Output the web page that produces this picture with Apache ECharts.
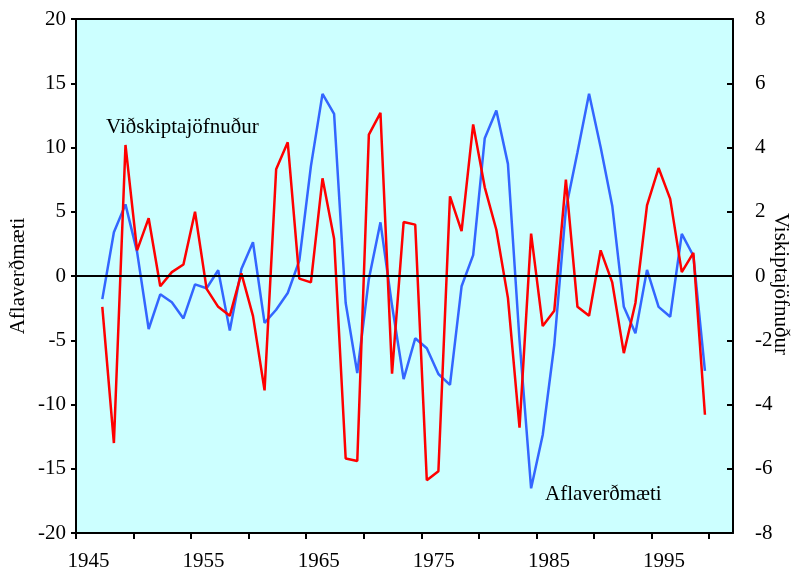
<!DOCTYPE html>
<html>
<head>
<meta charset="utf-8">
<script src="https://cdn.jsdelivr.net/npm/echarts@6/dist/echarts.min.js"></script>
<style>
html,body{margin:0;padding:0;background:#fff;}
#c{width:791px;height:574px;}
</style>
</head>
<body>
<div id="c"></div>
<script>
const years = [];
for (let y = 1947; y <= 1999; y++) years.push(y);

// Aflaverðmæti (left axis, red)
const aflaverdmaeti = [
  -2.4, -13.0, 10.2, 2.0, 4.5, -0.8, 0.3, 0.9, 5.0, -1.0,
  -2.4, -3.1, 0.2, -3.1, -8.9, 8.3, 10.4, -0.2, -0.5, 7.6,
  2.9, -14.2, -14.4, 11.0, 12.7, -7.6, 4.2, 4.0, -15.9, -15.2,
  6.2, 3.5, 11.8, 6.9, 3.6, -1.7, -11.8, 3.3, -3.9, -2.7,
  7.5, -2.4, -3.1, 2.0, -0.5, -6.0, -2.1, 5.5, 8.4, 6.0,
  0.3, 1.8, -10.8
];

// Viðskiptajöfnuður (right axis, blue)
const vidskiptajofnudur = [
  -0.72, 1.36, 2.23, 0.75, -1.65, -0.57, -0.82, -1.32, -0.26, -0.38,
  0.18, -1.70, 0.22, 1.05, -1.46, -1.05, -0.53, 0.48, 3.42, 5.67,
  5.05, -0.84, -3.02, -0.09, 1.67, -0.92, -3.21, -1.94, -2.25, -3.05,
  -3.39, -0.32, 0.65, 4.29, 5.15, 3.49, -2.0, -6.61, -4.95, -2.14,
  2.09, 3.85, 5.67, 4.01, 2.19, -0.96, -1.78, 0.19, -0.96, -1.27,
  1.31, 0.63, -2.95
];

const xLabelYears = [1945, 1955, 1965, 1975, 1985, 1995];
const leftTicks = [-20, -15, -10, -5, 0, 5, 10, 15, 20];
const rightTicks = [-8, -6, -4, -2, 0, 2, 4, 6, 8];

const FONT = 'Liberation Serif';
const chart = echarts.init(document.getElementById('c'), null, {renderer: 'canvas'});

const redData = years.map((y, i) => [y, aflaverdmaeti[i]]);
const blueData = years.map((y, i) => [y, vidskiptajofnudur[i]]);

function axisLine() { return {show: true, onZero: false, lineStyle: {color: '#000', width: 2}}; }
function tickStyle() { return {color: '#000', width: 2}; }

chart.setOption({
  animation: false,
  backgroundColor: '#ffffff',
  grid: {
    left: 76, right: 58, top: 19, bottom: 41,
    show: true, backgroundColor: '#ccffff',
    borderWidth: 0
  },
  xAxis: [
    {
      type: 'value', min: 1945, max: 2002.08, interval: 5, position: 'bottom',
      axisLine: axisLine(),
      axisTick: {show: true, inside: false, length: 6, lineStyle: tickStyle()},
      splitLine: {show: false},
      axisLabel: {
        show: true, color: '#000', fontFamily: FONT, fontSize: 21, margin: 18,
        padding: [0, 0, 0, 25],
        showMaxLabel: false, showMinLabel: true,
        formatter: v => xLabelYears.includes(Math.round(v)) ? String(Math.round(v)) : ''
      }
    },
    {
      type: 'value', min: 1944.73, max: 2001.42, show: false, position: 'bottom',
      axisLine: {show: false, onZero: false}
    },
    {
      type: 'value', min: 1945, max: 2002.08, position: 'top',
      axisLine: axisLine(),
      axisTick: {show: false}, axisLabel: {show: false}, splitLine: {show: false}
    }
  ],
  yAxis: [
    {
      type: 'value', min: -20, max: 20, interval: 5, position: 'left',
      axisLine: axisLine(),
      axisTick: {show: true, inside: false, length: 5, lineStyle: tickStyle()},
      splitLine: {show: false},
      axisLabel: {color: '#000', fontFamily: FONT, fontSize: 21, margin: 10,
        formatter: v => leftTicks.includes(v) ? String(v) : ''}
    },
    {
      type: 'value', min: -8, max: 8, interval: 2, position: 'right',
      axisLine: axisLine(),
      axisTick: {show: true, inside: true, length: 6, lineStyle: tickStyle()},
      splitLine: {show: false},
      axisLabel: {color: '#000', fontFamily: FONT, fontSize: 21, margin: 22, align: 'left',
        formatter: v => rightTicks.includes(v) ? String(v) : ''}
    }
  ],
  series: [
    {
      name: 'Viðskiptajöfnuður', type: 'line', xAxisIndex: 1, yAxisIndex: 1,
      data: blueData, symbol: 'none', lineStyle: {color: '#3366ff', width: 2.5},
      z: 3
    },
    {
      name: 'Aflaverðmæti', type: 'line', xAxisIndex: 1, yAxisIndex: 0,
      data: redData, symbol: 'none', lineStyle: {color: '#ff0000', width: 2.5},
      z: 4,
      markLine: {
        silent: true, symbol: 'none', label: {show: false},
        lineStyle: {color: '#000', width: 2, type: 'solid'},
        data: [{yAxis: 0}]
      }
    }
  ],
  graphic: [
    {type: 'text', left: 106, top: 117, style: {text: 'Viðskiptajöfnuður', font: '21px "Liberation Serif"', fill: '#000'}},
    {type: 'text', left: 545, top: 484, style: {text: 'Aflaverðmæti', font: '21px "Liberation Serif"', fill: '#000'}},
    {type: 'text', x: 18, y: 276, rotation: Math.PI / 2,
      style: {text: 'Aflaverðmæti', font: '21px "Liberation Serif"', fill: '#000', align: 'center', verticalAlign: 'middle'}},
    {type: 'text', x: 781, y: 284, rotation: -Math.PI / 2,
      style: {text: 'Viskiptajöfnuður', font: '21px "Liberation Serif"', fill: '#000', align: 'center', verticalAlign: 'middle'}}
  ]
});
</script>
</body>
</html>
